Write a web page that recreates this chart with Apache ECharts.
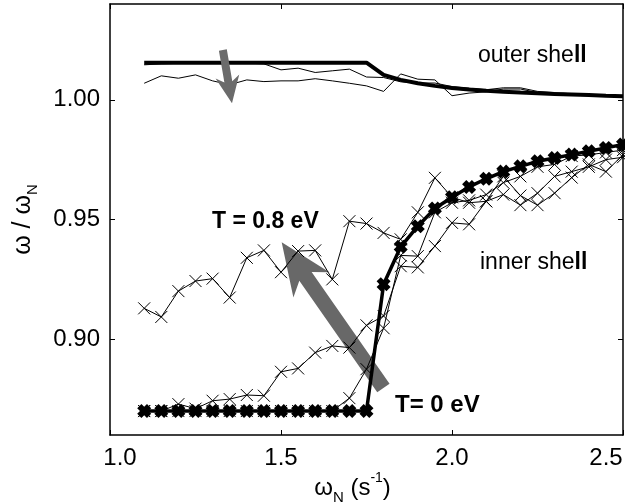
<!DOCTYPE html>
<html><head><meta charset="utf-8">
<script src="https://cdn.jsdelivr.net/npm/echarts@6/dist/echarts.min.js"></script>
<style>html,body{margin:0;padding:0;background:#fff}#c{width:625px;height:504px}</style>
</head><body><div id="c"></div>
<script>
// ---- data ----
const xValues = [1.10,1.15,1.20,1.25,1.30,1.35,1.40,1.45,1.50,1.55,1.60,1.65,1.70,1.75,1.80,1.85,1.90,1.95,2.00,2.05,2.10,2.15,2.20,2.25,2.30,2.35,2.40,2.45,2.50];
const innerT0 = [0.870,0.870,0.870,0.870,0.870,0.870,0.870,0.870,0.870,0.870,0.870,0.870,0.870,0.870,0.923,0.9386,0.9472,0.9546,0.9593,0.9636,0.967,0.970,0.9722,0.9743,0.9757,0.9771,0.9785,0.9799,0.9813];
const innerA = [0.9129,0.9093,0.9201,0.9243,0.9253,0.9174,0.934,0.9371,0.928,0.9368,0.9371,0.925,0.9493,0.9483,0.9444,0.9417,0.953,0.9674,0.9593,0.957,0.9576,0.968,0.960,0.956,0.961,0.9675,0.973,0.970,0.977];
const innerB = [0.870,0.870,0.8729,0.871,0.8743,0.875,0.8767,0.8764,0.8864,0.8878,0.8944,0.8972,0.8965,0.9058,0.9097,0.9305,0.930,0.9389,0.9486,0.948,0.9576,0.9604,0.956,0.961,0.968,0.970,0.972,0.975,0.976];
const innerC = [0.870,0.870,0.870,0.870,0.870,0.870,0.870,0.870,0.870,0.870,0.870,0.870,0.8754,0.8875,0.9046,0.935,0.9347,0.953,0.957,0.958,0.9604,0.9654,0.968,0.972,0.973,0.9765,0.977,0.978,0.979];
const outerThick = [1.0155,1.0155,1.0155,1.0155,1.0155,1.0155,1.0155,1.0155,1.0155,1.0155,1.0155,1.0155,1.0155,1.0155,1.0104,1.0083,1.0069,1.0058,1.0049,1.0043,1.0038,1.0034,1.003,1.0027,1.0024,1.0022,1.002,1.0017,1.0015];
const outerThin1 = [1.0146,1.0150,1.0152,1.0152,1.0153,1.0153,1.0153,1.0150,1.0125,1.0132,1.0114,1.0121,1.0128,1.0095,1.0093,1.0075,1.0070,1.0070,1.0055,1.0048,1.0042,1.0050,1.0050,1.0035,1.0030,1.0025,1.0022,1.0018,1.0015];
const outerThin2 = [1.0069,1.010,1.009,1.0104,1.0079,1.0063,1.0083,1.0076,1.0079,1.0079,1.0088,1.0079,1.0069,1.0058,1.0035,1.0108,1.0086,1.0083,1.0017,1.0028,1.0033,1.0045,1.0045,1.003,1.0025,1.002,1.002,1.0015,1.0013];
const xTickValues = [1.0, 1.5, 2.0, 2.5];
const yTickValues = [0.90, 0.95, 1.00];
// annotation arrows in data coordinates: [tail, tip]
const bigArrow = [[1.7994, 0.8796], [1.502, 0.9405]];
const smallArrow = [[1.330, 1.0208], [1.3567, 0.9986]];

const FONT = "'Liberation Sans', Arial, Helvetica, sans-serif";
const pairs = ys => xValues.map((x, i) => [x, ys[i]]);
const thinX = 'path://M0,0L10,10M10,0L0,10';
const boldX = 'path://M0,3L3,0L5,2L7,0L10,3L8,5L10,7L7,10L5,8L3,10L0,7L2,5Z';

function thinInner(ys) {
  return { type: 'line', data: pairs(ys), symbol: thinX, symbolSize: 12, showSymbol: true,
    lineStyle: { color: '#000', width: 1 }, itemStyle: { color: 'none', borderColor: '#000', borderWidth: 1 }, z: 3, silent: true };
}
function thinOuter(ys) {
  return { type: 'line', data: pairs(ys), symbol: 'none', lineStyle: { color: '#000', width: 1 }, z: 3, silent: true };
}

const chart = echarts.init(document.getElementById('c'), null, { renderer: 'canvas' });
const axisCommonX = { type: 'value', min: 1.0, max: 2.5, interval: 0.5, splitLine: { show: false },
  axisLine: { show: true, lineStyle: { color: '#000', width: 1.5 } },
  axisTick: { show: true, inside: true, length: 5, lineStyle: { color: '#000', width: 1 } } };
const axisCommonY = { type: 'value', min: 0.86, max: 1.04, splitLine: { show: false },
  axisLine: { show: true, lineStyle: { color: '#000', width: 1.5 } },
  axisTick: { show: true, inside: true, length: 5, customValues: yTickValues, lineStyle: { color: '#000', width: 1 } } };

chart.setOption({
  animation: false,
  backgroundColor: '#fff',
  grid: { left: 110, right: 2, top: 4, bottom: 69, containLabel: false, outerBoundsMode: 'none' },
  xAxis: [
    Object.assign({}, axisCommonX, { position: 'bottom',
      axisLabel: { show: true, margin: 11, color: '#000', fontFamily: FONT, fontSize: 24,
        customValues: xTickValues,
        formatter: v => v === 1.0 ? '{a|1.0}' : v === 2.5 ? '{b|2.5}' : '{n|' + v.toFixed(1) + '}',
        rich: { a: { fontSize: 24, fontFamily: FONT, color: '#000', padding: [0, 0, 0, 20] },
                b: { fontSize: 24, fontFamily: FONT, color: '#000', padding: [0, 34, 0, 0] },
                n: { fontSize: 24, fontFamily: FONT, color: '#000' } } },
      name: '{w|ω}{s|N}{w| (s}{p|-1}{w|)}', nameLocation: 'middle', nameGap: 36, nameMoveOverlap: false,
      nameTextStyle: { color: '#000', fontFamily: FONT, padding: [0, 28, 0, 0],
        rich: { w: { fontSize: 24, fontFamily: FONT, color: '#000', lineHeight: 34, verticalAlign: 'middle' },
                s: { fontSize: 15, fontFamily: FONT, color: '#000', lineHeight: 15, verticalAlign: 'bottom' },
                p: { fontSize: 14, fontFamily: FONT, color: '#000', lineHeight: 14, verticalAlign: 'top' } } } }),
    Object.assign({}, axisCommonX, { position: 'top', axisLabel: { show: false } })
  ],
  yAxis: [
    Object.assign({}, axisCommonY, { position: 'left',
      axisLabel: { show: true, margin: 10, color: '#000', fontFamily: FONT, fontSize: 24,
        customValues: yTickValues, formatter: v => v.toFixed(2) },
      name: '{w|ω / ω}{s|N}', nameLocation: 'middle', nameGap: 70, nameRotate: 90,
      nameTextStyle: { color: '#000', fontFamily: FONT,
        rich: { w: { fontSize: 25, fontFamily: FONT, color: '#000', lineHeight: 34, verticalAlign: 'middle' },
                s: { fontSize: 15, fontFamily: FONT, color: '#000', lineHeight: 15, verticalAlign: 'bottom' } } } }),
    Object.assign({}, axisCommonY, { position: 'right', axisLabel: { show: false } })
  ],
  series: [
    thinOuter(outerThin1),
    thinOuter(outerThin2),
    { type: 'line', data: pairs(outerThick), symbol: 'none', lineStyle: { color: '#000', width: 4 }, z: 4, silent: true },
    thinInner(innerA),
    thinInner(innerB),
    thinInner(innerC),
    { type: 'line', data: pairs(innerT0), symbol: boldX, symbolSize: 14, showSymbol: true,
      lineStyle: { color: '#000', width: 3.5 }, itemStyle: { color: '#000', borderWidth: 0 }, z: 5, silent: true }
  ]
});

function arrowPoints(tailD, tipD, shaftW, headL, headW) {
  const tail = chart.convertToPixel({ gridIndex: 0 }, tailD);
  const tip = chart.convertToPixel({ gridIndex: 0 }, tipD);
  const dx = tip[0] - tail[0], dy = tip[1] - tail[1];
  const L = Math.hypot(dx, dy);
  const ux = dx / L, uy = dy / L, px = -uy, py = ux;
  const notch = headL * 0.8;
  const at = (d, w) => [tip[0] - ux * d + px * w, tip[1] - uy * d + py * w];
  return [at(0, 0), at(headL, headW), at(notch, shaftW / 2), at(L, shaftW / 2),
          at(L, -shaftW / 2), at(notch, -shaftW / 2), at(headL, -headW)];
}
function txt(x, y, text, size, weight, rich) {
  return { type: 'text', x: x, y: y, z: 10, silent: true,
    style: { text: text, fill: '#000', font: weight + ' ' + size + 'px ' + FONT,
      verticalAlign: 'middle', align: 'left', rich: rich } };
}
const shellRich = { b: { fontWeight: 'bold', fontSize: 23, fontFamily: FONT, fill: '#000', color: '#000' } };

chart.setOption({
  graphic: [
    { type: 'polygon', shape: { points: arrowPoints(bigArrow[0], bigArrow[1], 15, 52, 22) },
      style: { fill: '#686868' }, z: 1, silent: true },
    { type: 'polygon', shape: { points: arrowPoints(smallArrow[0], smallArrow[1], 8, 27, 12) },
      style: { fill: '#6b6b6b' }, z: 10, silent: true },
    txt(478, 56, 'outer she{b|ll}', 23, 'normal', shellRich),
    txt(480, 263, 'inner she{b|ll}', 23, 'normal', shellRich),
    txt(212, 222, 'T = 0.8 eV', 23, 'bold'),
    txt(395, 405, 'T= 0 eV', 24, 'bold')
  ]
});
</script>
</body></html>
